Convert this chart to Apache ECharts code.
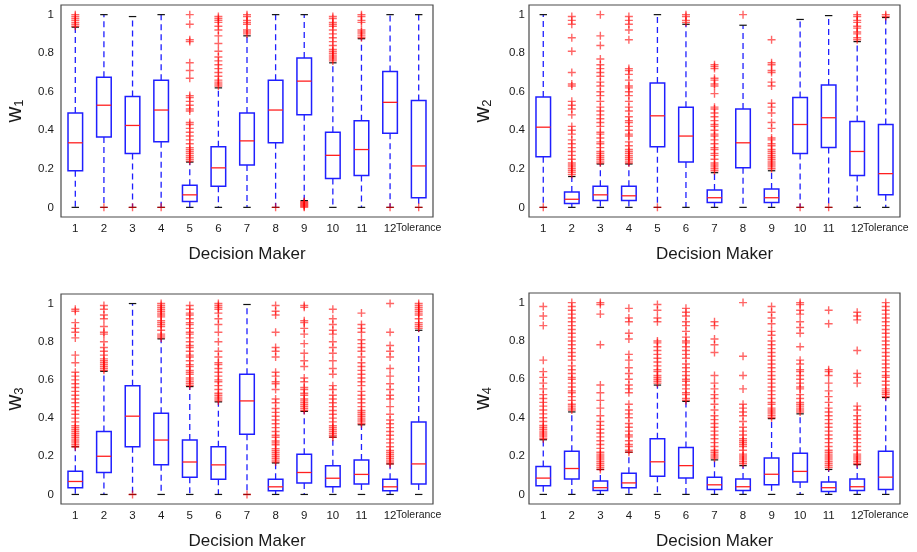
<!DOCTYPE html>
<html>
<head>
    <meta charset="utf-8">
    <title>Decision maker weights</title>
    <script src="https://cdn.jsdelivr.net/npm/echarts@6/dist/echarts.min.js"></script>
    <style>
        html, body { margin: 0; padding: 0; background: #fff; }
        #chart { width: 917px; height: 552px; }
    </style>
</head>
<body>
    <div id="chart"></div>
    <script>
    var categories = ['1', '2', '3', '4', '5', '6', '7', '8', '9', '10', '11', '12', 'Tolerance'];
    var yTicks = [0, 0.2, 0.4, 0.6, 0.8, 1];

    // each row: [lower whisker, q1, median, q3, upper whisker]
    var w1Stats = [
        [0, 0.19, 0.335, 0.49, 0.935], [0, 0.365, 0.53, 0.675, 1], [0, 0.28, 0.425, 0.575, 0.99],
        [0, 0.34, 0.505, 0.66, 1], [0, 0.03, 0.065, 0.115, 0.235], [0, 0.11, 0.205, 0.315, 0.62],
        [0, 0.22, 0.345, 0.49, 0.89], [0, 0.335, 0.505, 0.66, 1], [0.035, 0.48, 0.655, 0.775, 1],
        [0, 0.15, 0.27, 0.39, 0.75], [0, 0.165, 0.3, 0.45, 0.875], [0, 0.385, 0.545, 0.705, 1],
        [0, 0.05, 0.215, 0.555, 1]
    ];
    var w1Out = [
        [0.94, 0.95, 0.96, 0.97, 0.98, 0.99, 1],
        [0], [0], [0],
        [0.24, 0.25, 0.26, 0.27, 0.28, 0.29, 0.3, 0.31, 0.33, 0.35, 0.37, 0.39, 0.41, 0.43, 0.44, 0.5, 0.51, 0.53, 0.55, 0.57, 0.58, 0.67, 0.71, 0.75, 0.86, 0.87, 0.95, 1],
        [0.63, 0.64, 0.65, 0.66, 0.68, 0.7, 0.72, 0.74, 0.76, 0.78, 0.81, 0.85, 0.89, 0.92, 0.94, 0.96, 0.97, 0.98, 0.99],
        [0.9, 0.91, 0.92, 0.95, 0.96, 0.97, 0.99, 1],
        [0],
        [0, 0.005, 0.01, 0.015, 0.02, 0.025, 0.03],
        [0.76, 0.77, 0.78, 0.79, 0.8, 0.81, 0.82, 0.84, 0.86, 0.88, 0.9, 0.92, 0.94, 0.95, 0.96, 0.98, 0.99],
        [0.88, 0.89, 0.9, 0.91, 0.92, 0.96, 0.97, 0.99, 1],
        [0], [0]
    ];

    var w2Stats = [
        [0, 0.263, 0.416, 0.573, 1], [0, 0.02, 0.042, 0.08, 0.16], [0, 0.035, 0.065, 0.11, 0.225],
        [0, 0.035, 0.06, 0.11, 0.225], [0, 0.315, 0.475, 0.645, 1], [0, 0.235, 0.37, 0.52, 0.95],
        [0, 0.025, 0.05, 0.09, 0.18], [0, 0.205, 0.335, 0.51, 0.945], [0, 0.025, 0.05, 0.095, 0.19],
        [0, 0.28, 0.43, 0.57, 0.975], [0, 0.31, 0.465, 0.635, 0.995], [0, 0.165, 0.29, 0.445, 0.86],
        [0, 0.065, 0.175, 0.43, 0.985]
    ];
    var w2Out = [
        [0],
        [0.17, 0.18, 0.19, 0.2, 0.21, 0.22, 0.23, 0.25, 0.27, 0.29, 0.31, 0.33, 0.35, 0.38, 0.4, 0.42, 0.48, 0.51, 0.53, 0.55, 0.63, 0.64, 0.7, 0.81, 0.88, 0.95, 0.97, 0.99],
        [0.23, 0.24, 0.25, 0.26, 0.27, 0.28, 0.29, 0.31, 0.33, 0.34, 0.36, 0.38, 0.39, 0.42, 0.44, 0.46, 0.48, 0.5, 0.52, 0.55, 0.58, 0.6, 0.63, 0.65, 0.68, 0.7, 0.72, 0.74, 0.77, 0.84, 0.89, 1],
        [0.23, 0.24, 0.25, 0.26, 0.27, 0.28, 0.29, 0.3, 0.32, 0.34, 0.37, 0.38, 0.4, 0.42, 0.44, 0.45, 0.47, 0.5, 0.52, 0.55, 0.58, 0.6, 0.62, 0.63, 0.66, 0.69, 0.71, 0.72, 0.87, 0.92, 0.95, 0.97, 0.99],
        [0],
        [0.96, 0.97, 0.99, 1],
        [0.19, 0.2, 0.21, 0.22, 0.23, 0.25, 0.27, 0.28, 0.3, 0.31, 0.33, 0.35, 0.37, 0.38, 0.4, 0.42, 0.43, 0.45, 0.47, 0.49, 0.51, 0.52, 0.59, 0.63, 0.64, 0.66, 0.67, 0.72, 0.73, 0.74],
        [1],
        [0.2, 0.21, 0.22, 0.23, 0.24, 0.25, 0.26, 0.27, 0.28, 0.29, 0.3, 0.32, 0.33, 0.35, 0.36, 0.41, 0.44, 0.49, 0.52, 0.54, 0.63, 0.65, 0.7, 0.71, 0.74, 0.75, 0.87],
        [0], [0],
        [0.87, 0.88, 0.9, 0.91, 0.93, 0.94, 0.96, 0.97, 0.99, 1],
        [0.99, 1]
    ];

    var w3Stats = [
        [0, 0.035, 0.068, 0.122, 0.25], [0, 0.115, 0.2, 0.33, 0.645], [0, 0.25, 0.41, 0.57, 1],
        [0, 0.155, 0.285, 0.425, 0.815], [0, 0.09, 0.17, 0.285, 0.565], [0, 0.08, 0.155, 0.25, 0.485],
        [0, 0.315, 0.49, 0.63, 0.995], [0, 0.02, 0.04, 0.08, 0.165], [0, 0.06, 0.115, 0.21, 0.435],
        [0, 0.04, 0.085, 0.15, 0.3], [0, 0.055, 0.105, 0.18, 0.365], [0, 0.02, 0.04, 0.08, 0.16],
        [0, 0.055, 0.16, 0.38, 0.86]
    ];
    var w3Out = [
        [0.25, 0.26, 0.27, 0.28, 0.29, 0.3, 0.31, 0.32, 0.33, 0.34, 0.35, 0.36, 0.38, 0.4, 0.42, 0.44, 0.46, 0.48, 0.5, 0.52, 0.54, 0.56, 0.58, 0.6, 0.62, 0.64, 0.69, 0.73, 0.82, 0.85, 0.87, 0.9, 0.96, 0.97],
        [0.65, 0.66, 0.67, 0.68, 0.69, 0.7, 0.71, 0.73, 0.75, 0.77, 0.8, 0.84, 0.85, 0.88, 0.92, 0.94, 0.97, 0.99],
        [0],
        [0.82, 0.83, 0.84, 0.86, 0.88, 0.89, 0.9, 0.91, 0.93, 0.94, 0.95, 0.96, 0.97, 0.98, 0.99, 1],
        [0.57, 0.58, 0.59, 0.6, 0.61, 0.63, 0.64, 0.65, 0.67, 0.68, 0.7, 0.72, 0.73, 0.75, 0.77, 0.78, 0.8, 0.82, 0.84, 0.85, 0.87, 0.89, 0.9, 0.92, 0.94, 0.95, 0.97, 0.99],
        [0.49, 0.5, 0.51, 0.52, 0.53, 0.55, 0.57, 0.59, 0.6, 0.62, 0.64, 0.66, 0.68, 0.69, 0.72, 0.75, 0.8, 0.85, 0.89, 0.92, 0.95, 0.97, 0.98, 0.99, 1],
        [0],
        [0.17, 0.18, 0.19, 0.2, 0.21, 0.22, 0.23, 0.24, 0.26, 0.27, 0.28, 0.3, 0.31, 0.33, 0.35, 0.37, 0.39, 0.41, 0.43, 0.45, 0.48, 0.5, 0.55, 0.58, 0.59, 0.62, 0.64, 0.72, 0.75, 0.77, 0.85, 0.94, 0.96, 0.99],
        [0.44, 0.45, 0.46, 0.47, 0.48, 0.49, 0.5, 0.52, 0.53, 0.55, 0.56, 0.59, 0.61, 0.67, 0.7, 0.74, 0.79, 0.84, 0.87, 0.9, 0.91, 0.98, 0.99],
        [0.3, 0.31, 0.32, 0.33, 0.34, 0.35, 0.36, 0.38, 0.4, 0.42, 0.44, 0.46, 0.48, 0.5, 0.52, 0.55, 0.57, 0.63, 0.66, 0.7, 0.74, 0.77, 0.8, 0.84, 0.86, 0.89, 0.92, 0.97],
        [0.37, 0.38, 0.39, 0.4, 0.41, 0.42, 0.43, 0.44, 0.46, 0.48, 0.5, 0.52, 0.54, 0.57, 0.59, 0.61, 0.63, 0.65, 0.67, 0.69, 0.72, 0.75, 0.77, 0.79, 0.81, 0.85, 0.87, 0.89, 0.95],
        [0.16, 0.17, 0.18, 0.19, 0.2, 0.21, 0.22, 0.23, 0.25, 0.27, 0.29, 0.31, 0.33, 0.35, 0.37, 0.39, 0.42, 0.46, 0.5, 0.52, 0.55, 0.58, 0.62, 0.66, 0.72, 0.75, 0.78, 0.85, 1],
        [0.87, 0.88, 0.89, 0.9, 0.92, 0.94, 0.95, 0.96, 0.97, 0.98, 0.99, 1]
    ];

    var w4Stats = [
        [0, 0.045, 0.085, 0.145, 0.285], [0, 0.08, 0.135, 0.225, 0.43], [0, 0.02, 0.035, 0.07, 0.13],
        [0, 0.035, 0.06, 0.11, 0.22], [0, 0.095, 0.17, 0.29, 0.57], [0, 0.085, 0.15, 0.245, 0.485],
        [0, 0.025, 0.05, 0.09, 0.18], [0, 0.02, 0.04, 0.08, 0.15], [0, 0.05, 0.105, 0.19, 0.395],
        [0, 0.065, 0.12, 0.215, 0.42], [0, 0.015, 0.035, 0.065, 0.13], [0, 0.02, 0.04, 0.08, 0.155],
        [0, 0.025, 0.09, 0.225, 0.505]
    ];
    var w4Out = [
        [0.29, 0.3, 0.31, 0.32, 0.33, 0.34, 0.35, 0.36, 0.38, 0.4, 0.42, 0.44, 0.46, 0.48, 0.5, 0.52, 0.55, 0.58, 0.61, 0.64, 0.7, 0.88, 0.93, 0.98],
        [0.44, 0.45, 0.46, 0.47, 0.49, 0.51, 0.53, 0.54, 0.56, 0.58, 0.6, 0.61, 0.63, 0.65, 0.67, 0.7, 0.72, 0.74, 0.76, 0.78, 0.8, 0.82, 0.84, 0.86, 0.88, 0.9, 0.92, 0.94, 0.96, 0.98, 1],
        [0.13, 0.14, 0.15, 0.16, 0.17, 0.18, 0.19, 0.2, 0.21, 0.22, 0.24, 0.26, 0.28, 0.3, 0.32, 0.34, 0.36, 0.38, 0.41, 0.45, 0.49, 0.53, 0.57, 0.78, 0.94, 0.99, 1],
        [0.22, 0.23, 0.25, 0.26, 0.28, 0.3, 0.31, 0.33, 0.35, 0.37, 0.4, 0.42, 0.44, 0.47, 0.53, 0.55, 0.57, 0.6, 0.63, 0.66, 0.7, 0.73, 0.81, 0.84, 0.9, 0.92, 0.97],
        [0.58, 0.59, 0.6, 0.61, 0.62, 0.64, 0.65, 0.67, 0.69, 0.71, 0.73, 0.75, 0.77, 0.79, 0.8, 0.9, 0.92, 0.96, 0.99],
        [0.49, 0.5, 0.52, 0.53, 0.55, 0.57, 0.59, 0.6, 0.62, 0.64, 0.66, 0.68, 0.71, 0.73, 0.75, 0.77, 0.79, 0.8, 0.82, 0.85, 0.88, 0.9, 0.93, 0.95, 0.97],
        [0.19, 0.2, 0.21, 0.22, 0.23, 0.25, 0.27, 0.29, 0.31, 0.33, 0.35, 0.37, 0.39, 0.41, 0.44, 0.47, 0.5, 0.52, 0.55, 0.58, 0.62, 0.74, 0.78, 0.81, 0.88, 0.9],
        [0.16, 0.17, 0.18, 0.19, 0.2, 0.21, 0.23, 0.25, 0.26, 0.27, 0.28, 0.29, 0.31, 0.33, 0.35, 0.38, 0.41, 0.43, 0.45, 0.47, 0.55, 0.62, 0.72, 1],
        [0.4, 0.41, 0.42, 0.43, 0.44, 0.45, 0.47, 0.48, 0.5, 0.52, 0.54, 0.56, 0.58, 0.6, 0.62, 0.64, 0.66, 0.68, 0.7, 0.72, 0.74, 0.76, 0.78, 0.8, 0.83, 0.85, 0.89, 0.92, 0.95, 0.98],
        [0.43, 0.44, 0.45, 0.46, 0.47, 0.48, 0.5, 0.52, 0.55, 0.56, 0.58, 0.6, 0.62, 0.64, 0.65, 0.68, 0.7, 0.77, 0.84, 0.87, 0.9, 0.94, 0.96, 0.99, 1],
        [0.14, 0.15, 0.16, 0.17, 0.18, 0.19, 0.2, 0.21, 0.22, 0.23, 0.25, 0.27, 0.29, 0.31, 0.33, 0.35, 0.37, 0.39, 0.41, 0.43, 0.45, 0.48, 0.51, 0.54, 0.58, 0.62, 0.64, 0.65, 0.89, 0.96],
        [0.16, 0.17, 0.18, 0.19, 0.2, 0.21, 0.23, 0.25, 0.27, 0.29, 0.31, 0.33, 0.35, 0.37, 0.39, 0.41, 0.44, 0.46, 0.58, 0.61, 0.63, 0.75, 0.91, 0.93, 0.95],
        [0.51, 0.52, 0.53, 0.54, 0.55, 0.57, 0.59, 0.61, 0.62, 0.64, 0.66, 0.68, 0.7, 0.72, 0.74, 0.76, 0.78, 0.8, 0.82, 0.84, 0.86, 0.88, 0.9, 0.92, 0.94, 0.96, 0.98, 1]
    ];

    var panels = [
        { sub: '1', stats: w1Stats, out: w1Out, left: 61, top: 5, width: 372, height: 212, labelMargin: 7 },
        { sub: '2', stats: w2Stats, out: w2Out, left: 529, top: 5, width: 371, height: 212, labelMargin: 4 },
        { sub: '3', stats: w3Stats, out: w3Out, left: 61, top: 294, width: 372, height: 210, labelMargin: 7 },
        { sub: '4', stats: w4Stats, out: w4Out, left: 529, top: 293, width: 371, height: 211, labelMargin: 4 }
    ];

    var BLUE = '#1f1fff';
    var FONT = 'Liberation Sans';
    var TEXT = '#1a1a1a';

    function renderBox(params, api) {
        var i = api.value(0);
        var pLow = api.coord([i, api.value(1)]);
        var pQ1 = api.coord([i, api.value(2)]);
        var pMed = api.coord([i, api.value(3)]);
        var pQ3 = api.coord([i, api.value(4)]);
        var pHigh = api.coord([i, api.value(5)]);
        var band = api.size([1, 0])[0];
        var bw = band * 0.51;
        var cw = band * 0.26;
        var x = pMed[0];
        var dash = { stroke: BLUE, lineWidth: 1.3, lineDash: [6, 4] };
        var cap = { stroke: '#111', lineWidth: 1.2 };
        return {
            type: 'group',
            children: [
                { type: 'line', shape: { x1: x, y1: pQ3[1], x2: x, y2: pHigh[1] }, style: dash },
                { type: 'line', shape: { x1: x, y1: pQ1[1], x2: x, y2: pLow[1] }, style: dash },
                { type: 'line', shape: { x1: x - cw / 2, y1: pHigh[1], x2: x + cw / 2, y2: pHigh[1] }, style: cap },
                { type: 'line', shape: { x1: x - cw / 2, y1: pLow[1], x2: x + cw / 2, y2: pLow[1] }, style: cap },
                { type: 'rect', shape: { x: x - bw / 2, y: pQ3[1], width: bw, height: pQ1[1] - pQ3[1] },
                  style: { fill: 'none', stroke: BLUE, lineWidth: 1.5 } },
                { type: 'line', shape: { x1: x - bw / 2, y1: pMed[1], x2: x + bw / 2, y2: pMed[1] },
                  style: { stroke: '#ff2020', lineWidth: 1.3 } }
            ]
        };
    }

    var grid = [], xAxis = [], yAxis = [], series = [];
    panels.forEach(function (p, k) {
        grid.push({ left: p.left, top: p.top, width: p.width, height: p.height,
            show: true, borderColor: '#4a4a4a', borderWidth: 1.2, backgroundColor: '#fff' });
        xAxis.push({
            type: 'category', gridIndex: k, data: categories, boundaryGap: true,
            name: 'Decision Maker', nameLocation: 'middle', nameGap: 29,
            nameTextStyle: { fontFamily: FONT, fontSize: 17, color: TEXT },
            axisLine: { show: false },
            axisTick: { alignWithLabel: true, inside: true, length: 3, lineStyle: { color: '#444' } },
            axisLabel: {
                interval: 0, margin: 6, fontFamily: FONT, fontSize: 11.5, color: TEXT,
                formatter: function (v) { return v === 'Tolerance' ? '{t|' + v + '}' : v; },
                rich: { t: { fontFamily: FONT, fontSize: 10.5, color: TEXT } }
            },
            splitLine: { show: false }
        });
        yAxis.push({
            type: 'value', gridIndex: k, min: -0.05, max: 1.05,
            name: '{w|w}{s|' + p.sub + '}', nameLocation: 'middle', nameGap: 35, nameRotate: 90,
            nameTextStyle: {
                color: TEXT, fontFamily: FONT,
                rich: {
                    w: { fontSize: 22, fontFamily: FONT, color: TEXT },
                    s: { fontSize: 13, fontFamily: FONT, color: TEXT, padding: [10, 0, 0, 0] }
                }
            },
            axisLine: { show: false },
            axisTick: { inside: true, length: 4, customValues: yTicks, lineStyle: { color: '#444' } },
            axisLabel: { customValues: yTicks, margin: p.labelMargin, fontFamily: FONT, fontSize: 11.5, color: TEXT,
                formatter: function (v) { return String(v); } },
            splitLine: { show: false }
        });
        yAxis.push({
            type: 'value', gridIndex: k, min: -0.05, max: 1.05, position: 'right',
            axisLine: { show: false },
            axisTick: { inside: true, length: 4, customValues: yTicks, lineStyle: { color: '#444' } },
            axisLabel: { show: false },
            splitLine: { show: false }
        });

        var boxRows = p.stats.map(function (s, i) { return [i].concat(s); });
        series.push({
            type: 'custom', xAxisIndex: k, yAxisIndex: k * 2, renderItem: renderBox,
            data: boxRows, encode: { x: 0, y: [1, 2, 3, 4, 5] }, silent: true, z: 2
        });

        var pts = [];
        p.out.forEach(function (list, i) {
            list.forEach(function (v) { pts.push([i, v]); });
        });
        series.push({
            type: 'scatter', xAxisIndex: k, yAxisIndex: k * 2, data: pts,
            symbol: 'path://M5 0V10M0 5H10', symbolSize: 8,
            itemStyle: { color: 'transparent', borderColor: 'rgba(255,0,0,0.75)', borderWidth: 1.4 },
            silent: true, z: 3
        });
    });

    var chart = echarts.init(document.getElementById('chart'));
    chart.setOption({
        animation: false,
        backgroundColor: '#fff',
        grid: grid,
        xAxis: xAxis,
        yAxis: yAxis,
        series: series
    });
    </script>
</body>
</html>
